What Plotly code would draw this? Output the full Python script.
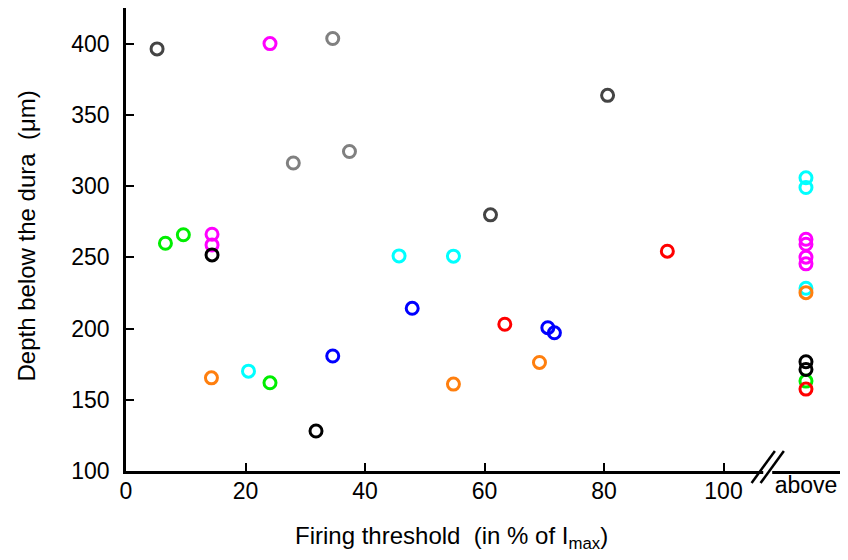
import plotly.graph_objects as go

ABOVE = 113.8  # x position of the "above" column

# series values
darkgray_x = [5.2, 80.6, 61.0]
darkgray_y = [396.3, 363.7, 279.8]
gray_x = [34.6, 28.0, 37.4]
gray_y = [403.6, 316.2, 324.3]
magenta_x = [24.1, 14.4, 14.4, ABOVE, ABOVE, ABOVE, ABOVE]
magenta_y = [400.0, 266.2, 258.7, 262.7, 259.2, 250.1, 245.4]
green_x = [6.6, 9.6, 24.1, ABOVE]
green_y = [259.9, 265.8, 161.9, 163.1]
black_x = [14.4, 31.8, ABOVE, ABOVE]
black_y = [251.7, 128.1, 176.7, 171.3]
cyan_x = [45.7, 54.8, 20.5, ABOVE, ABOVE, ABOVE]
cyan_y = [251.0, 250.8, 170.1, 305.8, 299.0, 228.3]
red_x = [90.6, 63.4, ABOVE]
red_y = [254.3, 203.0, 157.5]
blue_x = [47.9, 34.6, 70.6, 71.7]
blue_y = [214.2, 180.7, 200.6, 197.0]
orange_x = [14.3, 54.8, 69.2, ABOVE]
orange_y = [165.4, 161.0, 176.2, 225.2]

x_ticks = [0, 20, 40, 60, 80, 100]
x_ticktext = ["0", "20", "40", "60", "80", "100"]
y_ticks = [100, 150, 200, 250, 300, 350, 400]

series = [
    ("#444444", darkgray_x, darkgray_y),
    ("#808080", gray_x, gray_y),
    ("#ff00ff", magenta_x, magenta_y),
    ("#00ee00", green_x, green_y),
    ("#000000", black_x, black_y),
    ("#00ffff", cyan_x, cyan_y),
    ("#ff0000", red_x, red_y),
    ("#0000ff", blue_x, blue_y),
    ("#ff7f0e", orange_x, orange_y),
]

XMAX = 120.5
YMIN, YMAX = 100, 425
FONT = "Liberation Sans, Arial, sans-serif"
TICK_SIZE = 23
TITLE_SIZE = 24

fig = go.Figure()
for color, xs, ys in series:
    fig.add_trace(go.Scatter(
        x=xs, y=ys, mode="markers",
        marker=dict(symbol="circle-open", size=12, color=color,
                    line=dict(width=3, color=color)),
        showlegend=False, cliponaxis=False,
    ))

# page has an 8px body margin, so the figure is sized to fit the window
W, H = 840, 552
ML, MR, MT, MB = 118, 2, 0, 89
pw, ph = W - ML - MR, H - MT - MB
OFF = 8  # page offset of the figure

fig.update_layout(
    width=W, height=H,
    margin=dict(l=ML, r=MR, t=MT, b=MB, autoexpand=False),
    paper_bgcolor="white", plot_bgcolor="white",
    font=dict(family=FONT, size=TICK_SIZE, color="black"),
    xaxis=dict(range=[0, XMAX], tickvals=x_ticks, ticktext=x_ticktext,
               ticks="inside", ticklen=8, tickwidth=2, tickcolor="black",
               showline=True, linewidth=2.5, linecolor="black",
               showgrid=False, zeroline=False, ticklabelstandoff=-2),
    xaxis2=dict(range=[0, XMAX], overlaying="x", side="bottom",
                tickvals=[ABOVE], ticktext=["above"], ticks="",
                showline=False, showgrid=False, zeroline=False,
                ticklabelstandoff=-2,
                tickfont=dict(family=FONT, size=TICK_SIZE)),
    yaxis=dict(range=[YMIN, YMAX], tickvals=y_ticks,
               ticks="inside", ticklen=8, tickwidth=2, tickcolor="black",
               showline=True, linewidth=2.5, linecolor="black",
               showgrid=False, zeroline=False, ticklabelstandoff=9),
)
# invisible trace to activate xaxis2
fig.add_trace(go.Scatter(x=[ABOVE], y=[None], xaxis="x2", mode="markers",
                         showlegend=False, hoverinfo="skip"))

# axis break "//"
def px_x(xd):
    return xd / XMAX

def px_y(offset_px):
    return -offset_px / ph

BREAK = 107.4
gap = 0.75
fig.add_shape(type="rect", xref="paper", yref="paper",
              x0=px_x(BREAK - gap), x1=px_x(BREAK + gap),
              y0=px_y(3), y1=px_y(-3), fillcolor="white",
              line=dict(width=0), layer="above")
for dx in (-0.75, 0.75):
    fig.add_shape(type="line", xref="paper", yref="paper",
                  x0=px_x(BREAK + dx - 1.95), y0=px_y(12),
                  x1=px_x(BREAK + dx + 1.95), y1=px_y(-20),
                  line=dict(color="black", width=2.5), layer="above")

fig.add_annotation(text="Firing threshold\u00a0\u00a0(in % of I<sub>max</sub>)",
                   xref="paper", yref="paper",
                   x=(451.5 - OFF - ML) / pw, y=(MT + ph - (537 - OFF)) / ph,
                   xanchor="center", yanchor="middle", showarrow=False,
                   font=dict(family=FONT, size=TITLE_SIZE))
fig.add_annotation(text="Depth below the dura\u00a0\u00a0(\u03bcm)",
                   xref="paper", yref="paper",
                   x=(26 - OFF - ML) / pw, y=1 - (236.5 - OFF - MT) / ph,
                   xanchor="center", yanchor="middle", showarrow=False,
                   textangle=-90, font=dict(family=FONT, size=TITLE_SIZE))

fig.write_html("out.html")
